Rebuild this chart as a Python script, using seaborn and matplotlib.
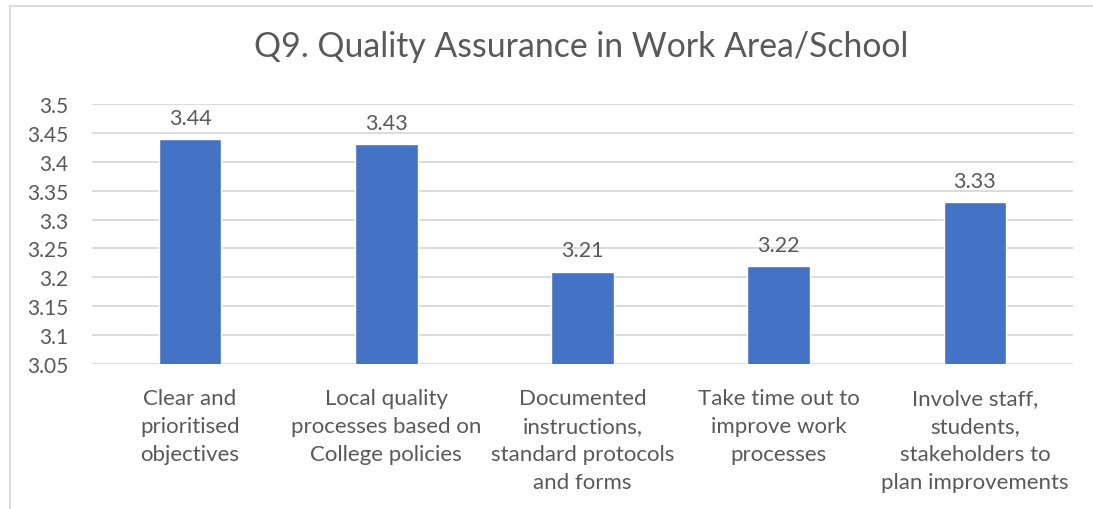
import numpy as np
import pandas as pd
import matplotlib
matplotlib.use("Agg")
import matplotlib.pyplot as plt
from matplotlib.lines import Line2D
import seaborn as sns

# chart data
categories = [
    "Clear and\nprioritised\nobjectives",
    "Local quality\nprocesses based on\nCollege policies",
    "Documented\ninstructions,\nstandard protocols\nand forms",
    "Take time out to\nimprove work\nprocesses",
    "Involve staff,\nstudents,\nstakeholders to\nplan improvements",
]
scores = [3.44, 3.43, 3.21, 3.22, 3.33]
ytick_values = [3.05, 3.1, 3.15, 3.2, 3.25, 3.3, 3.35, 3.4, 3.45, 3.5]
ytick_labels = ["3.05", "3.1", "3.15", "3.2", "3.25", "3.3", "3.35", "3.4", "3.45", "3.5"]
title = "Q9. Quality Assurance in Work Area/School"

sns.set_theme(style="white")
plt.rcParams['font.family'] = ['Lato', 'DejaVu Sans']
text_col = "#595959"
grid_col = "#D9D9D9"

df = pd.DataFrame({"category": categories, "score": scores})

fig = plt.figure(figsize=(10.93, 5.10), dpi=100)
ax = fig.add_axes([92/1093, 1-365/510, (1073-92)/1093, (365-105)/510])

sns.barplot(data=df, x="category", y="score", color="#4472C4", width=0.32,
            saturation=1, ax=ax)

ax.set_ylim(3.05, 3.5)
ax.set_yticks(ytick_values)
ax.set_yticklabels(ytick_labels)
ax.yaxis.grid(True, color=grid_col, linewidth=1.3)
ax.set_axisbelow(True)
for s in ax.spines.values():
    s.set_visible(False)
ax.tick_params(axis="y", length=0, pad=17, labelsize=15, labelcolor=text_col)
ax.tick_params(axis="x", length=0, pad=17, labelsize=16, labelcolor=text_col)
for lbl in ax.get_xticklabels():
    lbl.set_linespacing(1.5)
ax.set_xlabel("")
ax.set_ylabel("")

ax.bar_label(ax.containers[0], fmt="%.2f", padding=8, fontsize=15.5, color=text_col)

fig.text(0.532, 1-47/510, title, ha="center", va="center", fontsize=24.3, color=text_col)

# chart frame (left and top edges visible)
fig.add_artist(Line2D([9.5/1093, 9.5/1093], [0, 1-6.5/510], transform=fig.transFigure,
                      color=grid_col, linewidth=1.3))
fig.add_artist(Line2D([9.5/1093, 1], [1-6.5/510, 1-6.5/510], transform=fig.transFigure,
                      color=grid_col, linewidth=1.3))

fig.savefig("out.png", dpi=100, facecolor="white")
